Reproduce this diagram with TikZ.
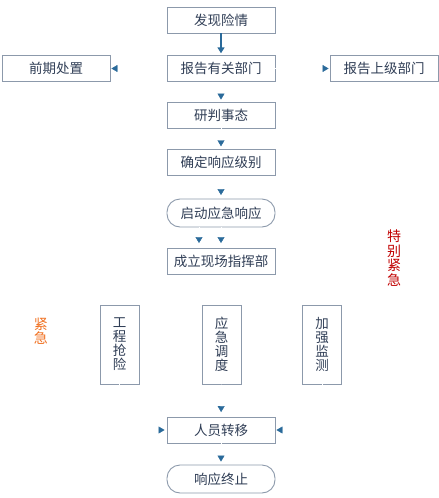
\documentclass[tikz,border=0pt]{standalone}
\usepackage{fontspec}
\newfontfamily\cjk{Noto Sans CJK SC}
\usetikzlibrary{arrows.meta,calc}
\definecolor{boxline}{HTML}{8C99AB}
\definecolor{boxtext}{HTML}{2F3D55}
\definecolor{tipblue}{HTML}{2A6A9A}
\definecolor{darkred}{HTML}{C00000}
\definecolor{orangetxt}{HTML}{F07020}
\tikzset{
  box/.style={draw=boxline, line width=0.9pt, minimum width=108pt, minimum height=25.5pt,
    inner sep=0pt, text=boxtext, font=\cjk\fontsize{13.5}{14}\selectfont},
  pill/.style={box, rounded corners=13pt, minimum height=28pt},
  vbox/.style={draw=boxline, line width=0.9pt, minimum width=39pt, minimum height=79pt,
    inner sep=0pt, text=boxtext, align=center, font=\cjk\fontsize{13.5}{14}\selectfont},
  ghost/.style={draw=white, line width=0.4pt, -{Triangle[width=7pt,length=6pt,color=tipblue]}},
  solidarrow/.style={draw=tipblue, line width=1.8pt, -{Triangle[width=7pt,length=6pt]}},
  vlabel/.style={align=center, inner sep=0pt, font=\cjk\fontsize{14}{14.5}\selectfont}
}
\begin{document}
\begin{tikzpicture}[x=1pt,y=-1pt]
\useasboundingbox (0,0) rectangle (439,498);
\node[box, minimum height=26pt] (n1) at (221,20) {发现险情};
\node[box] (n2) at (221,68.5) {报告有关部门};
\node[box] (lft) at (56,68.5) {前期处置};
\node[box] (rgt) at (384,68.5) {报告上级部门};
\node[box, minimum height=26pt] (n3) at (221,115) {研判事态};
\node[box] (n4) at (221,162.5) {确定响应级别};
\node[pill] (n5) at (221,213) {启动应急响应};
\node[box, minimum height=26pt] (n6) at (221,261) {成立现场指挥部};
\node[vbox] (v1) at (119.5,344.5) {工\\程\\抢\\险};
\node[vbox] (v2) at (221.5,344.5) {应\\急\\调\\度};
\node[vbox] (v3) at (322,344.5) {加\\强\\监\\测};
\node[box, minimum height=26pt] (n7) at (221,430) {人员转移};
\node[pill] (n8) at (221,479) {响应终止};
\node[vlabel, text=darkred] (tbjj) at (394,258) {特\\别\\紧\\急};
\node[vlabel, text=orangetxt] (jj) at (41,331) {紧\\急};

\draw[solidarrow, shorten >=2pt] (n1) -- (n2);
\draw[ghost, shorten >=1pt] (n2) -- (lft);
\draw[ghost, shorten >=1pt] (n2) -- (rgt);
\draw[ghost, shorten >=2pt] (n2) -- (n3);
\draw[ghost, shorten >=3pt] (n3) -- (n4);
\draw[ghost, shorten >=3.5pt] (n4) -- (n5);
\draw[ghost, shorten >=4.5pt] ($(n5.south)+(-22,0)$) -- ($(n6.north)+(-22,0)$);
\draw[ghost, shorten >=4.5pt] (n5) -- (n6);
\draw[ghost, shorten >=4.5pt] (v2) -- (n7);
\draw[ghost, shorten >=2pt] (v1.south) |- (n7.west);
\draw[ghost, shorten >=1pt] (v3.south) |- (n7.east);
\draw[ghost, shorten >=3pt] (n7) -- (n8);
\end{tikzpicture}
\end{document}
